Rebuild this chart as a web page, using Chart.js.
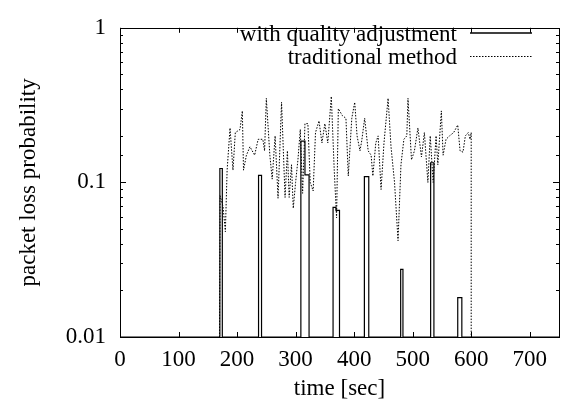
<!DOCTYPE html>
<html>
<head>
<meta charset="utf-8">
<script src="https://cdn.jsdelivr.net/npm/chart.js@4"></script>
<style>
  html, body { margin: 0; padding: 0; background: #fff; }
  #wrap { width: 563px; height: 407px; }
</style>
</head>
<body>
<div id="wrap"><canvas id="lossChart"></canvas></div>
<script>
/* series: with quality adjustment (step boxes, value held until next time) */
const qualityTimes  = [0, 170.6, 174.8, 236.7, 241.8, 309, 316, 323, 364, 369, 375, 417.5, 425, 479.5, 483.4, 530.7, 536.3, 577, 584, 750];
const qualityValues = [0.01, 0.123, 0.01, 0.111, 0.01, 0.185, 0.112, 0.01, 0.069, 0.066, 0.01, 0.109, 0.01, 0.0274, 0.01, 0.134, 0.01, 0.018, 0.01, 0.01];

/* series: traditional method */
const traditionalTimes = [170, 171, 176, 180, 183, 188, 193, 197, 205, 209, 211, 216, 222, 230, 236, 244, 247, 250, 256, 260,
  265, 270, 276, 282, 286, 289, 293, 296, 300, 304, 308, 312, 316, 321, 325, 330, 334, 340, 345, 350,
  355, 361, 366, 370, 373, 380, 386, 390, 396, 401, 405, 410, 413, 418, 424, 429, 432, 437, 441, 446,
  451, 458, 463, 469, 475, 480, 485, 490, 492, 498, 503, 509, 515, 520, 526, 530, 535, 540, 543, 549,
  552, 557, 563, 570, 577, 581, 586, 590, 595, 598, 600, 600];
const traditionalValues = [0.01, 0.082, 0.07, 0.048, 0.12, 0.225, 0.12, 0.21, 0.22, 0.29, 0.12, 0.15, 0.17, 0.15, 0.19, 0.19, 0.16, 0.35, 0.15, 0.105,
  0.2, 0.079, 0.33, 0.08, 0.16, 0.08, 0.13, 0.068, 0.1, 0.14, 0.22, 0.085, 0.24, 0.24, 0.1, 0.088, 0.21, 0.25, 0.18, 0.24,
  0.18, 0.36, 0.12, 0.059, 0.3, 0.27, 0.26, 0.11, 0.26, 0.33, 0.2, 0.16, 0.186, 0.26, 0.16, 0.15, 0.11, 0.18, 0.2, 0.09,
  0.18, 0.35, 0.17, 0.1, 0.042, 0.13, 0.19, 0.2, 0.35, 0.14, 0.16, 0.225, 0.146, 0.21, 0.1, 0.2, 0.1, 0.2, 0.13, 0.29,
  0.15, 0.19, 0.2, 0.21, 0.235, 0.16, 0.157, 0.2, 0.21, 0.19, 0.21, 0.01];

const seriesNames = ["with quality adjustment", "traditional method"];
const xTitle = "time [sec]";
const yTitle = "packet loss probability";
const xRange = [0, 750];
const yRange = [0.01, 1];

const FONT = "Liberation Serif";
const FONT_SIZE = 23;

function toPoints(xs, ys) {
  return xs.map((x, i) => ({ x: x, y: ys[i] }));
}

function isDecade(v) {
  const l = Math.log10(v);
  return Math.abs(l - Math.round(l)) < 1e-6;
}

/* gnuplot-like frame, inward ticks, titles and key */
const gnuFrame = {
  id: "gnuFrame",
  afterDraw(chart) {
    const ctx = chart.ctx;
    const a = chart.chartArea;
    const xs = chart.scales.x;
    const ys = chart.scales.y;

    ctx.save();
    ctx.setLineDash([]);
    ctx.strokeStyle = "#000";
    ctx.fillStyle = "#000";
    ctx.lineWidth = 1;

    ctx.beginPath();
    xs.ticks.forEach(t => {
      const px = Math.round(xs.getPixelForValue(t.value)) + 0.5;
      ctx.moveTo(px, a.bottom);
      ctx.lineTo(px, a.bottom - 5);
      ctx.moveTo(px, a.top);
      ctx.lineTo(px, a.top + 5);
    });
    ys.ticks.forEach(t => {
      const py = Math.round(ys.getPixelForValue(t.value)) + 0.5;
      const len = isDecade(t.value) ? 6 : 3;
      ctx.moveTo(a.left, py);
      ctx.lineTo(a.left + len, py);
      ctx.moveTo(a.right, py);
      ctx.lineTo(a.right - len, py);
    });
    ctx.stroke();

    ctx.strokeRect(Math.round(a.left) + 0.5, Math.round(a.top) + 0.5,
      Math.round(a.right - a.left), Math.round(a.bottom - a.top));

    /* key samples */
    const rows = [35, 58];
    ctx.beginPath();
    ctx.lineWidth = 1.5;
    ctx.moveTo(470, rows[0] - 2);
    ctx.lineTo(532, rows[0] - 2);
    ctx.stroke();

    ctx.beginPath();
    ctx.lineWidth = 1;
    ctx.setLineDash([1.5, 1.5]);
    ctx.moveTo(470, rows[1] - 1.5);
    ctx.lineTo(532, rows[1] - 1.5);
    ctx.stroke();
    ctx.setLineDash([]);

    /* key labels and axis titles */
    ctx.font = FONT_SIZE + "px '" + FONT + "'";
    ctx.textBaseline = "middle";
    ctx.textAlign = "right";
    seriesNames.forEach((name, i) => ctx.fillText(name, 457, rows[i]));

    ctx.textAlign = "center";
    ctx.fillText(xTitle, (a.left + a.right) / 2, 389);

    ctx.translate(29, (a.top + a.bottom) / 2);
    ctx.rotate(-Math.PI / 2);
    ctx.fillText(yTitle, 0, 0);
    ctx.restore();
  }
};

new Chart(document.getElementById("lossChart"), {
  type: "scatter",
  data: {
    datasets: [
      {
        label: seriesNames[0],
        data: toPoints(qualityTimes, qualityValues),
        showLine: true,
        stepped: true,
        borderColor: "#000",
        borderWidth: 1.2,
        pointRadius: 0
      },
      {
        label: seriesNames[1],
        data: toPoints(traditionalTimes, traditionalValues),
        showLine: true,
        borderColor: "#000",
        borderWidth: 1,
        borderDash: [1.5, 1.5],
        pointRadius: 0
      }
    ]
  },
  options: {
    responsive: true,
    maintainAspectRatio: false,
    animation: false,
    layout: { padding: { left: 0, right: 4, top: 16, bottom: 0 } },
    plugins: {
      legend: { display: false },
      tooltip: { enabled: false }
    },
    scales: {
      x: {
        type: "linear",
        min: xRange[0],
        max: xRange[1],
        grid: { display: false, drawTicks: false },
        border: { display: false },
        ticks: {
          stepSize: 100,
          includeBounds: false,
          autoSkip: false,
          maxRotation: 0,
          padding: 9,
          color: "#000",
          font: { family: FONT, size: FONT_SIZE }
        },
        afterFit(scale) { scale.height = 70; }
      },
      y: {
        type: "logarithmic",
        min: yRange[0],
        max: yRange[1],
        grid: { display: false, drawTicks: false },
        border: { display: false },
        ticks: {
          autoSkip: false,
          padding: 14,
          color: "#000",
          font: { family: FONT, size: FONT_SIZE },
          callback: v => isDecade(v) ? String(Number(v.toPrecision(1))) : ""
        },
        afterFit(scale) { scale.width = 120; }
      }
    }
  },
  plugins: [gnuFrame]
});
</script>
</body>
</html>
